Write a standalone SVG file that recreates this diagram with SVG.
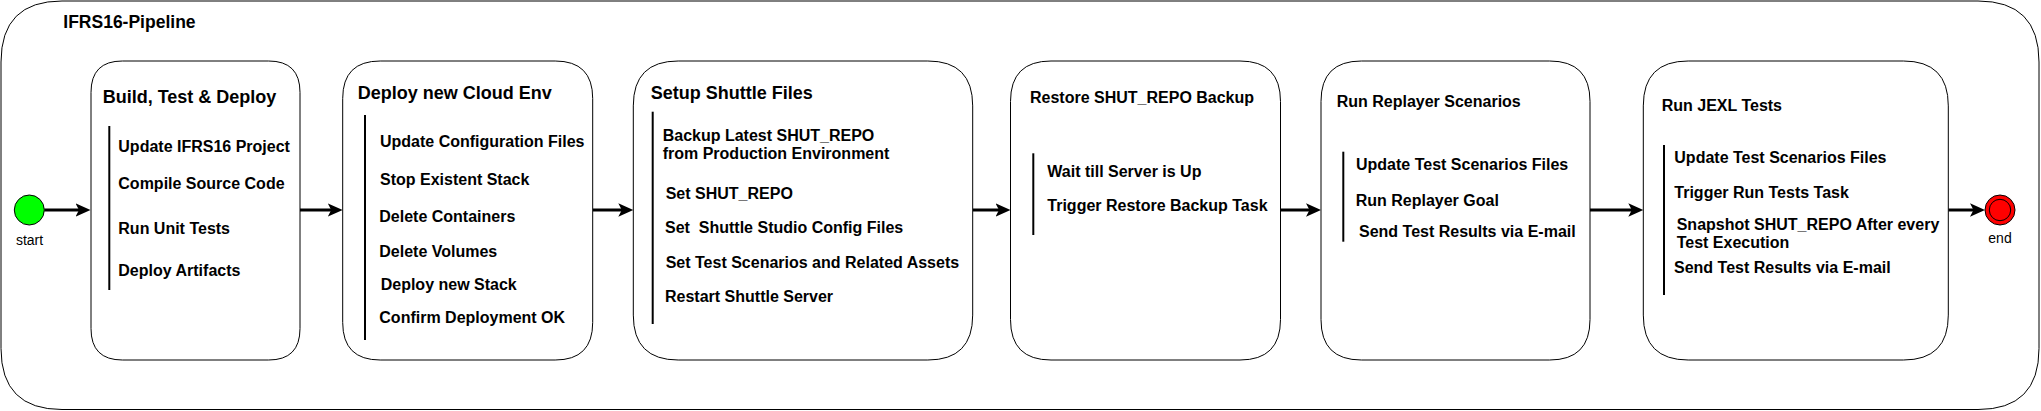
<svg xmlns="http://www.w3.org/2000/svg" width="2041" height="411" viewBox="0 0 2041 411">
<style>
text{font-family:"Liberation Sans",Arial,Helvetica,sans-serif;fill:#000;}
.ttl{font-size:18px;font-weight:bold;}
.ttl16{font-size:16px;font-weight:bold;}
.it{font-size:16px;font-weight:bold;}
.lbl{font-size:14px;text-anchor:middle;}
.box{fill:#fff;stroke:#000;stroke-width:1;}
.bar{stroke:#000;stroke-width:2;}
.conn{stroke:#000;stroke-width:3;fill:none;}
</style>
<defs>
<marker id="arr" markerUnits="userSpaceOnUse" markerWidth="16" markerHeight="14" viewBox="0 0 16 14" refX="7" refY="7" orient="auto">
<path d="M15,7 L0,0.3 L3.5,7 L0,13.7 Z" fill="#000"/>
</marker>
</defs>
<g id="pipeline">
<path class="box" d="M62,1 L1978,1 Q2039,1 2039,62 L2039,348.5 Q2039,409.5 1978,409.5 L62,409.5 Q1,409.5 1,348.5 L1,62 Q1,1 62,1 Z"/>
<text x="63.3" y="28.3" style="font-size:17.5px;font-weight:bold">IFRS16-Pipeline</text>
</g>
<g id="connectors">
<line class="conn" x1="44.3" y1="210" x2="82.5" y2="210" marker-end="url(#arr)"/>
<line class="conn" x1="300" y1="210" x2="334.7" y2="210" marker-end="url(#arr)"/>
<line class="conn" x1="592.7" y1="210" x2="625.3" y2="210" marker-end="url(#arr)"/>
<line class="conn" x1="972.7" y1="210" x2="1002.5" y2="210" marker-end="url(#arr)"/>
<line class="conn" x1="1280.5" y1="210" x2="1313" y2="210" marker-end="url(#arr)"/>
<line class="conn" x1="1590" y1="210" x2="1635.3" y2="210" marker-end="url(#arr)"/>
<line class="conn" x1="1948.3" y1="210" x2="1977" y2="210" marker-end="url(#arr)"/>
</g>
<g id="start">
<circle cx="29.3" cy="210" r="15" fill="#00FF00" stroke="#000" stroke-width="1"/>
<text class="lbl" x="29.5" y="245">start</text>
</g>
<g id="build-test-deploy">
<path class="box" d="M122.4,61 L268.6,61 Q300,61 300,92.4 L300,328.6 Q300,360 268.6,360 L122.4,360 Q91,360 91,328.6 L91,92.4 Q91,61 122.4,61 Z"/>
<text class="ttl" x="102.7" y="102.7">Build, Test &amp; Deploy</text>
<line class="bar" x1="109.3" y1="126" x2="109.3" y2="290"/>
<text class="it" x="118.3" y="151.7">Update IFRS16 Project</text>
<text class="it" x="118.3" y="189.3">Compile Source Code</text>
<text class="it" x="118.3" y="233.5">Run Unit Tests</text>
<text class="it" x="118.3" y="275.7">Deploy Artifacts</text>
</g>
<g id="deploy-cloud-env">
<path class="box" d="M380.2,61 L555.2,61 Q592.7,61 592.7,98.5 L592.7,322.5 Q592.7,360 555.2,360 L380.2,360 Q342.7,360 342.7,322.5 L342.7,98.5 Q342.7,61 380.2,61 Z"/>
<text class="ttl" x="357.7" y="99">Deploy new Cloud Env</text>
<line class="bar" x1="365" y1="115" x2="365" y2="340"/>
<text class="it" x="380" y="147.3">Update Configuration Files</text>
<text class="it" x="380" y="185">Stop Existent Stack</text>
<text class="it" x="379.3" y="221.7">Delete Containers</text>
<text class="it" x="379.3" y="257.3">Delete Volumes</text>
<text class="it" x="380.7" y="290">Deploy new Stack</text>
<text class="it" x="379.3" y="323.3">Confirm Deployment OK</text>
</g>
<g id="setup-shuttle-files">
<path class="box" d="M678.2,61 L927.8,61 Q972.7,61 972.7,105.9 L972.7,315.1 Q972.7,360 927.8,360 L678.2,360 Q633.3,360 633.3,315.1 L633.3,105.9 Q633.3,61 678.2,61 Z"/>
<text class="ttl" x="650.7" y="99">Setup Shuttle Files</text>
<line class="bar" x1="652.7" y1="111.7" x2="652.7" y2="324"/>
<text class="it" x="662.7" y="140.7">Backup Latest SHUT_REPO</text>
<text class="it" x="662.7" y="159">from Production Environment</text>
<text class="it" x="665.7" y="199">Set SHUT_REPO</text>
<text class="it" x="665" y="233.3" xml:space="preserve">Set  Shuttle Studio Config Files</text>
<text class="it" x="665.7" y="268.3">Set Test Scenarios and Related Assets</text>
<text class="it" x="665" y="301.7">Restart Shuttle Server</text>
</g>
<g id="restore-backup">
<path class="box" d="M1051,61 L1240,61 Q1280.5,61 1280.5,101.5 L1280.5,319.5 Q1280.5,360 1240,360 L1051,360 Q1010.5,360 1010.5,319.5 L1010.5,101.5 Q1010.5,61 1051,61 Z"/>
<text class="ttl16" x="1030" y="103.3">Restore SHUT_REPO Backup</text>
<line class="bar" x1="1033.3" y1="153.3" x2="1033.3" y2="235"/>
<text class="it" x="1047.3" y="176.7">Wait till Server is Up</text>
<text class="it" x="1047.3" y="211.3">Trigger Restore Backup Task</text>
</g>
<g id="run-replayer">
<path class="box" d="M1361.4,61 L1549.6,61 Q1590,61 1590,101.4 L1590,319.6 Q1590,360 1549.6,360 L1361.4,360 Q1321,360 1321,319.6 L1321,101.4 Q1321,61 1361.4,61 Z"/>
<text class="ttl16" x="1336.7" y="107.3">Run Replayer Scenarios</text>
<line class="bar" x1="1343.3" y1="151.7" x2="1343.3" y2="241.7"/>
<text class="it" x="1356" y="170">Update Test Scenarios Files</text>
<text class="it" x="1355.7" y="206">Run Replayer Goal</text>
<text class="it" x="1359" y="236.7">Send Test Results via E-mail</text>
</g>
<g id="run-jexl">
<path class="box" d="M1688.2,61 L1903.4,61 Q1948.3,61 1948.3,105.9 L1948.3,315.1 Q1948.3,360 1903.4,360 L1688.2,360 Q1643.3,360 1643.3,315.1 L1643.3,105.9 Q1643.3,61 1688.2,61 Z"/>
<text class="ttl16" x="1661.7" y="110.7">Run JEXL Tests</text>
<line class="bar" x1="1664" y1="145" x2="1664" y2="295"/>
<text class="it" x="1674.3" y="162.7">Update Test Scenarios Files</text>
<text class="it" x="1674.3" y="198.3">Trigger Run Tests Task</text>
<text class="it" x="1676.7" y="230">Snapshot SHUT_REPO After every</text>
<text class="it" x="1676.7" y="248.3">Test Execution</text>
<text class="it" x="1674" y="273.3">Send Test Results via E-mail</text>
</g>
<g id="end">
<circle cx="2000" cy="210" r="15" fill="#FF0000" stroke="#000" stroke-width="1"/>
<circle cx="2000" cy="210" r="10.7" fill="#FF0000" stroke="#000" stroke-width="1"/>
<text class="lbl" x="2000" y="243.3">end</text>
</g>
</svg>
